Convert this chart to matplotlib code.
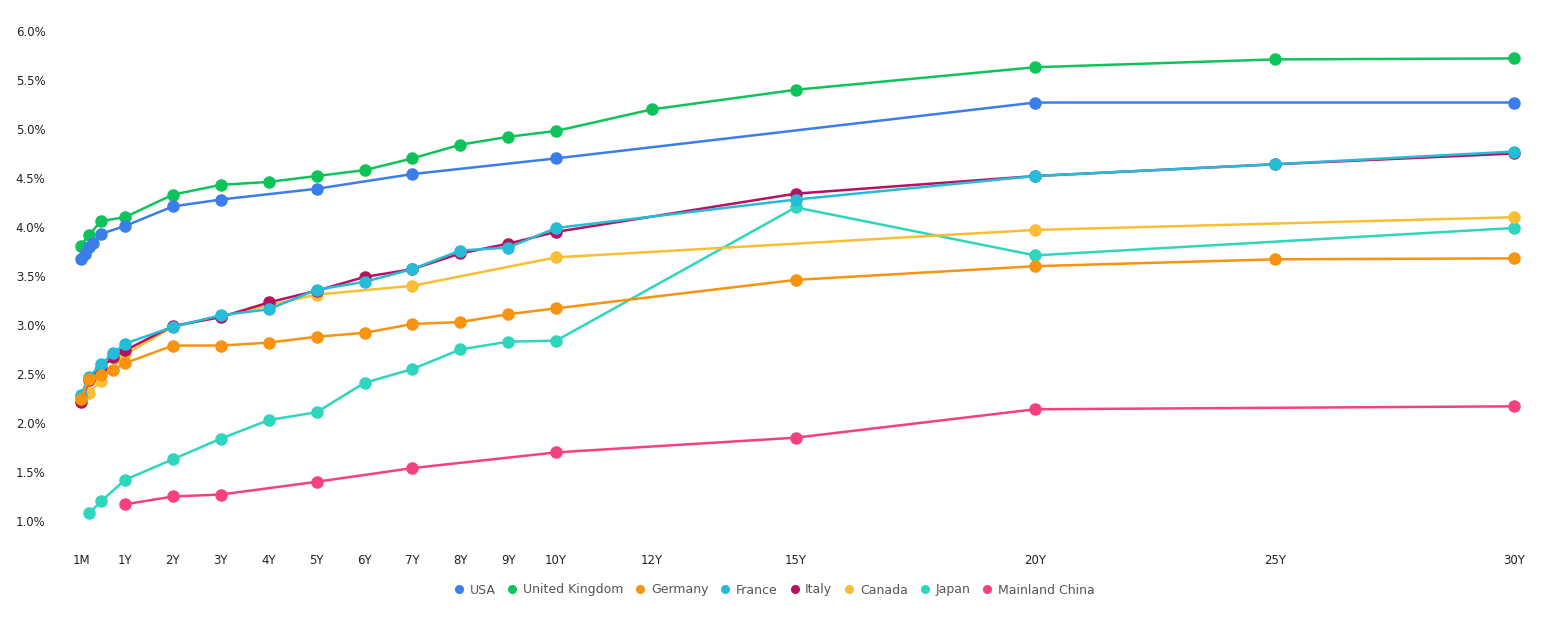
import matplotlib
matplotlib.use("Agg")
import matplotlib.pyplot as plt
from matplotlib.ticker import FuncFormatter

# maturities (strings) and yields in %
usa_mat = ["1M", "2M", "3M", "4M", "6M", "1Y", "2Y", "3Y", "5Y", "7Y", "10Y", "20Y", "30Y"]
usa_val = [3.67, 3.72, 3.80, 3.84, 3.93, 4.01, 4.21, 4.28, 4.39, 4.54, 4.70, 5.27, 5.27]

uk_mat = ["1M", "3M", "6M", "1Y", "2Y", "3Y", "4Y", "5Y", "6Y", "7Y", "8Y", "9Y", "10Y",
          "12Y", "15Y", "20Y", "25Y", "30Y"]
uk_val = [3.81, 3.92, 4.06, 4.10, 4.33, 4.43, 4.46, 4.52, 4.58, 4.70, 4.84, 4.92, 4.98,
          5.20, 5.40, 5.63, 5.71, 5.72]

eu_mat = ["1M", "3M", "6M", "9M", "1Y", "2Y", "3Y", "4Y", "5Y", "6Y", "7Y", "8Y", "9Y",
          "10Y", "15Y", "20Y", "25Y", "30Y"]
germany_val = [2.24, 2.45, 2.49, 2.54, 2.61, 2.79, 2.79, 2.82, 2.88, 2.92, 3.01, 3.03, 3.11,
               3.17, 3.46, 3.60, 3.67, 3.68]
france_val = [2.29, 2.47, 2.60, 2.71, 2.81, 2.98, 3.10, 3.16, 3.36, 3.44, 3.57, 3.76, 3.79,
              3.99, 4.28, 4.52, 4.64, 4.77]
italy_val = [2.21, 2.44, 2.56, 2.67, 2.74, 2.99, 3.08, 3.23, 3.35, 3.49, 3.57, 3.73, 3.83,
             3.95, 4.34, 4.52, 4.64, 4.75]

canada_mat = ["1M", "3M", "6M", "1Y", "2Y", "3Y", "5Y", "7Y", "10Y", "20Y", "30Y"]
canada_val = [2.27, 2.31, 2.43, 2.70, 2.98, 3.09, 3.31, 3.40, 3.69, 3.97, 4.10]

japan_mat = ["3M", "6M", "1Y", "2Y", "3Y", "4Y", "5Y", "6Y", "7Y", "8Y", "9Y", "10Y",
             "15Y", "20Y", "30Y"]
japan_val = [1.08, 1.20, 1.42, 1.63, 1.84, 2.03, 2.11, 2.41, 2.55, 2.75, 2.83, 2.84,
             4.20, 3.71, 3.99]

china_mat = ["1Y", "2Y", "3Y", "5Y", "7Y", "10Y", "15Y", "20Y", "30Y"]
china_val = [1.17, 1.25, 1.27, 1.40, 1.54, 1.70, 1.85, 2.14, 2.17]

tick_labels = ["1M", "1Y", "2Y", "3Y", "4Y", "5Y", "6Y", "7Y", "8Y", "9Y", "10Y",
               "12Y", "15Y", "20Y", "25Y", "30Y"]
y_ticks = [1.0, 1.5, 2.0, 2.5, 3.0, 3.5, 4.0, 4.5, 5.0, 5.5, 6.0]


def years(m):
    # "6M" -> 0.5, "10Y" -> 10
    if m.endswith("M"):
        return int(m[:-1]) / 12
    return float(m[:-1])


series = [
    ("USA", usa_mat, usa_val, "#3b7ee9"),
    ("United Kingdom", uk_mat, uk_val, "#0ec45a"),
    ("Germany", eu_mat, germany_val, "#f7930f"),
    ("France", eu_mat, france_val, "#26bcd8"),
    ("Italy", eu_mat, italy_val, "#b8115f"),
    ("Canada", canada_mat, canada_val, "#f9be35"),
    ("Japan", japan_mat, japan_val, "#2ed6bd"),
    ("Mainland China", china_mat, china_val, "#f6417d"),
]

fig = plt.figure(figsize=(15.66, 6.25), dpi=100)
ax = fig.add_axes([0.0415, 0.136, 0.9355, 0.824])

n = len(series)
for i, (name, mats, vals, col) in enumerate(series):
    ax.plot([years(m) for m in mats], vals, "-o", color=col, lw=1.8, ms=8,
            label=name, zorder=10 + n - i)

ax.set_xlim(-0.253, 30.33)
ax.set_ylim(0.806, 6.061)
ax.set_xticks([years(t) for t in tick_labels])
ax.set_xticklabels(tick_labels)
ax.set_yticks(y_ticks)
ax.yaxis.set_major_formatter(FuncFormatter(lambda v, p: f"{v:.1f}%"))
for s in ax.spines.values():
    s.set_visible(False)
ax.tick_params(axis="both", length=0, labelsize=8.5, colors="#222222")
ax.tick_params(axis="y", pad=14)
ax.tick_params(axis="x", pad=10)

leg = fig.legend(loc="center", bbox_to_anchor=(0.495, 0.056), ncol=8, frameon=False,
                 handlelength=0.5, handletextpad=0.6, columnspacing=1.1, fontsize=9,
                 labelcolor="#555555")
for h in leg.legend_handles:
    h.set_linestyle("none")
    h.set_markersize(5.5)

fig.savefig("out.png", dpi=100)
